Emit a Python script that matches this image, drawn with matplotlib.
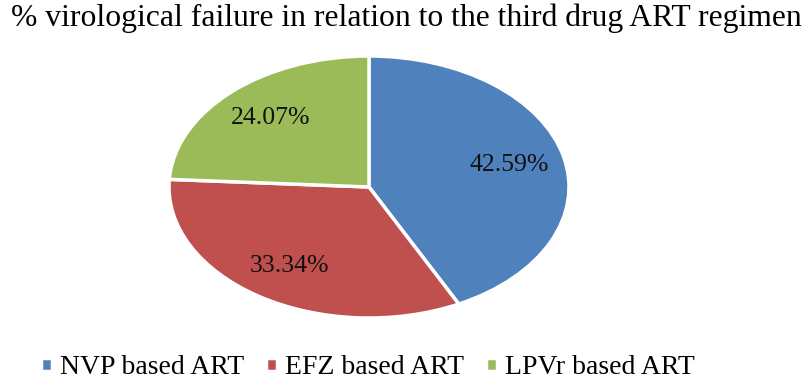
import matplotlib
matplotlib.use("Agg")
import matplotlib.pyplot as plt

regimens = ["NVP based ART", "EFZ based ART", "LPVr based ART"]
failure_pct = [42.59, 33.34, 24.07]
colors = ["#4F81BD", "#C0504D", "#9BBB59"]

plt.rcParams["font.family"] = ["Liberation Serif", "DejaVu Serif"]

fig = plt.figure(figsize=(8.07, 3.88), dpi=100)
ax = fig.add_axes([169 / 807, 70 / 388, 400 / 807, 262 / 388])

wedges, texts, autotexts = ax.pie(
    failure_pct, colors=colors, startangle=90, counterclock=False,
    autopct="%.2f%%", pctdistance=0.72,
    wedgeprops=dict(edgecolor="white", linewidth=2.5),
    textprops=dict(fontsize=18.5, color="#111111"),
)
ax.set_aspect("auto")
ax.set_xlim(-1.0, 1.0)
ax.set_ylim(-1.0, 1.0)

fig.text(0.503, 0.953, "% virological failure in relation to the third drug ART regimen",
         ha="center", va="center", fontsize=22.8)

fig.legend(wedges, regimens, loc="center left", bbox_to_anchor=(30 / 807, 1 - 368 / 388),
           ncol=3, frameon=False, fontsize=20, handlelength=0.38, handleheight=0.38,
           handletextpad=0.3, columnspacing=0.8, borderaxespad=0)

fig.savefig("out.png", dpi=100)
